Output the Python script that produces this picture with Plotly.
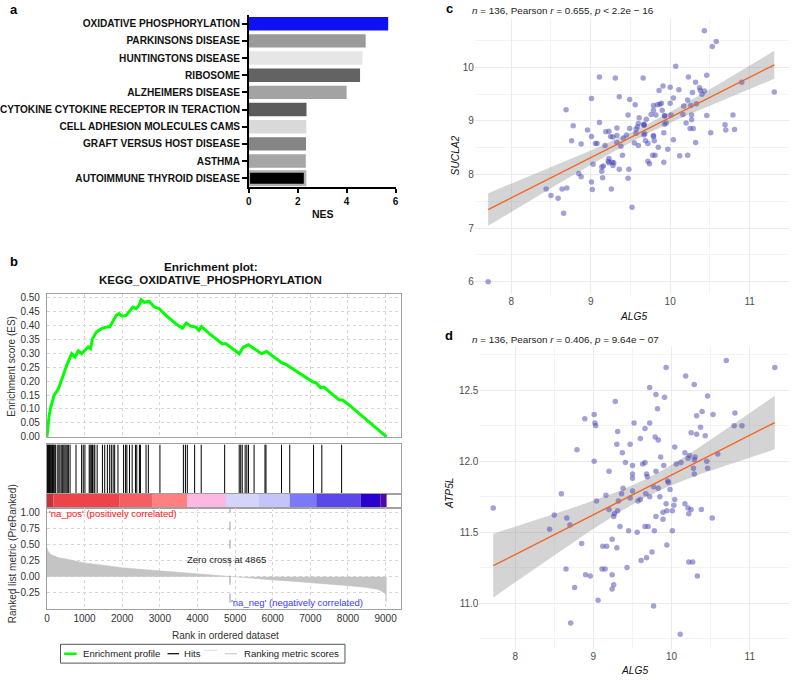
import numpy as np
import plotly.graph_objects as go

W, H = 792, 680
FONT = "Liberation Sans, Arial, sans-serif"

# ---------------- panel a: NES of top KEGG sets
pathways = [
    "OXIDATIVE PHOSPHORYLATION", "PARKINSONS DISEASE", "HUNTINGTONS DISEASE",
    "RIBOSOME", "ALZHEIMERS DISEASE", "CYTOKINE CYTOKINE RECEPTOR IN TERACTION",
    "CELL ADHESION MOLECULES CAMS", "GRAFT VERSUS HOST DISEASE", "ASTHMA",
    "AUTOIMMUNE THYROID DISEASE",
]
nes = [5.70, 4.78, 4.65, 4.55, 4.00, 2.36, 2.35, 2.34, 2.33, 2.30]
bar_colors = ["#1010f5", "#9a9a9a", "#e6e6e6", "#636363", "#a3a3a3",
              "#5c5c5c", "#d9d9d9", "#858585", "#a6a6a6", "#000000"]
bar_edges = ["rgba(0,0,0,0)"] * 9 + ["#b0b0b0"]

# ---------------- panel b: GSEA enrichment plot
es_rank = [0, 61, 105, 193, 307, 395, 527, 658, 746, 834, 922, 1097, 1159, 1212,
           1317, 1449, 1580, 1668, 1756, 1844, 1914, 2002, 2107, 2195, 2283, 2371,
           2458, 2502, 2590, 2722, 2853, 2985, 3161, 3424, 3600, 3705, 3819, 3951,
           4039, 4109, 4302, 4653, 4759, 5110, 5224, 5356, 5487, 5707, 5838, 6234,
           6365, 6427, 7068, 7156, 7270, 7358, 7770, 7858, 8034, 9026]
es_score = [0.0, 0.078, 0.108, 0.150, 0.173, 0.209, 0.257, 0.299, 0.287, 0.309,
            0.299, 0.323, 0.317, 0.353, 0.377, 0.389, 0.395, 0.395, 0.419, 0.437,
            0.443, 0.434, 0.437, 0.451, 0.467, 0.461, 0.475, 0.493, 0.484, 0.487,
            0.467, 0.461, 0.437, 0.407, 0.391, 0.409, 0.398, 0.395, 0.383, 0.397,
            0.373, 0.335, 0.335, 0.299, 0.323, 0.331, 0.319, 0.299, 0.307, 0.267,
            0.260, 0.254, 0.197, 0.194, 0.177, 0.179, 0.132, 0.132, 0.114, 0.0]

hit_ranks = [5, 20, 38, 55, 72, 90, 110, 130, 150, 170, 190, 215, 235,
             290, 320, 350, 395, 420, 450, 480, 510, 540, 570, 615, 773, 922, 965,
             1010, 1124, 1150, 1180, 1210, 1250, 1273, 1335, 1475, 1536, 1607, 1668,
             1712, 1760, 1800, 1888, 2037, 2090, 2125, 2195, 2265, 2353, 2388, 2458,
             2485, 2634, 2695, 3003, 3626, 3680, 3731, 3925, 4100, 4723, 5110, 5150,
             5190, 5268, 5312, 5356, 5505, 5795, 5821, 6234, 6453, 7085, 7305, 7831]

band_edges = [0, 176, 1933, 2810, 3732, 4759, 5620, 6453, 7156, 8341, 8868, 9026]
band_colors = ["#c8323a", "#ec4448", "#f55e62", "#ff8080", "#fbb8e2", "#d4d4f8",
               "#c4c4f8", "#7a7af8", "#5a48e8", "#2a00cc", "#5208a0"]

metric_rank = [0, 40, 100, 300, 616, 1000, 1500, 2000, 2500, 3000, 3500, 4000, 4500,
               4865, 5500, 6000, 6500, 7000, 7500, 8000, 8500, 8800, 8950, 9000, 9026]
metric_val = [0.455, 0.39, 0.345, 0.30, 0.265, 0.215, 0.18, 0.14, 0.115, 0.09, 0.065,
              0.04, 0.02, 0.0, -0.03, -0.05, -0.07, -0.09, -0.11, -0.14, -0.17,
              -0.20, -0.245, -0.28, -0.395]
zero_cross = 4865

# ---------------- panel c: ALG5 vs SUCLA2
c_alg5 = [10.43, 10.58, 10.53, 10.07, 10.46, 9.11, 9.31, 9.66, 10.23, 10.90, 10.32, 9.91,
          10.37, 10.38, 10.43, 10.40, 10.28, 10.00, 10.11, 9.86, 11.31, 9.36, 9.01, 9.49,
          10.04, 10.22, 9.56, 9.79, 9.84, 9.87, 10.00, 9.89, 10.33, 10.17, 10.26, 9.79,
          9.90, 8.69, 9.47, 9.76, 9.82, 9.93, 9.93, 10.01, 10.16, 10.27, 10.46, 10.79,
          9.61, 9.11, 9.70, 10.27, 9.60, 9.59, 9.67, 9.67, 9.93, 10.20, 10.69, 10.25,
          10.29, 8.78, 8.96, 9.33, 9.49, 9.19, 9.23, 10.70, 10.81, 9.57, 9.33, 9.25,
          9.28, 9.45, 9.01, 9.41, 9.06, 8.88, 9.68, 9.67, 9.57, 9.69, 9.72, 9.79,
          9.79, 9.80, 9.55, 9.60, 9.18, 9.38, 9.33, 9.92, 10.04, 10.51, 10.32, 8.76,
          9.08, 9.85, 9.40, 9.23, 9.22, 9.27, 9.29, 9.23, 9.28, 9.16, 9.03, 9.72,
          9.74, 9.92, 9.81, 9.78, 9.97, 10.12, 10.22, 9.36, 9.48, 9.14, 8.85, 9.15,
          8.88, 9.47, 9.01, 8.44, 8.50, 8.64, 8.70, 9.02, 9.26, 8.59, 9.52, 8.66,
          7.71, 9.14, 9.67, 9.95]
c_sucla2 = [10.68, 10.48, 10.39, 10.02, 9.85, 9.82, 9.80, 9.80, 9.82, 9.72, 9.72, 9.65,
            9.62, 9.57, 9.56, 9.50, 9.53, 9.63, 9.58, 9.57, 9.54, 9.45, 9.42, 9.40,
            9.43, 9.39, 9.30, 9.29, 9.30, 9.31, 9.33, 9.33, 9.32, 9.28, 9.29, 9.20,
            9.20, 9.21, 9.11, 9.12, 9.11, 9.10, 9.09, 9.11, 9.12, 9.11, 9.10, 9.11,
            9.06, 8.97, 9.03, 9.02, 8.95, 8.89, 8.93, 8.94, 8.94, 8.96, 8.93, 8.86,
            8.86, 8.91, 8.83, 8.87, 8.86, 8.80, 8.81, 8.83, 8.84, 8.85, 8.73, 8.71,
            8.70, 8.74, 8.71, 8.68, 8.58, 8.57, 8.76, 8.74, 8.77, 8.63, 8.58, 8.73,
            8.71, 8.63, 8.59, 8.54, 8.54, 8.53, 8.60, 8.78, 8.65, 8.78, 8.60, 8.63,
            8.58, 8.51, 8.36, 8.30, 8.25, 8.23, 8.22, 8.22, 8.17, 8.16, 8.19, 8.25,
            8.20, 8.23, 8.36, 8.36, 8.47, 8.35, 8.36, 8.10, 8.10, 8.06, 8.02, 7.94,
            7.96, 7.93, 7.86, 7.73, 7.61, 7.73, 7.75, 7.72, 7.73, 7.56, 7.39, 7.28,
            6.00, 8.14, 8.92, 8.96]

# ---------------- panel d: ALG5 vs ATP5L
d_alg5 = [10.70, 9.93, 11.32, 10.18, 10.29, 9.72, 9.80, 9.91, 10.46, 9.28, 9.82, 10.39,
          10.81, 9.01, 8.89, 9.02, 9.03, 9.52, 9.72, 10.32, 10.53, 9.66, 9.31, 10.25,
          10.32, 10.37, 10.80, 10.90, 9.79, 9.83, 9.60, 9.47, 9.30, 10.43, 8.79, 10.04,
          9.37, 10.17, 10.23, 9.86, 10.29, 9.01, 9.41, 9.63, 9.66, 10.06, 10.12, 10.21,
          9.90, 10.30, 10.45, 10.59, 9.50, 10.28, 10.46, 9.20, 9.50, 9.80, 9.68, 10.29,
          9.69, 9.95, 9.38, 9.50, 9.77, 9.83, 9.96, 9.98, 8.59, 9.16, 9.36, 9.32,
          9.50, 9.72, 9.67, 9.60, 9.57, 9.47, 9.85, 10.04, 9.04, 9.93, 10.03, 10.17,
          10.21, 10.22, 10.25, 10.38, 10.52, 10.01, 9.94, 9.89, 9.80, 9.89, 9.20, 9.27,
          9.31, 9.26, 8.50, 8.66, 8.70, 8.44, 9.34, 9.45, 9.56, 9.66, 9.70, 9.78,
          10.01, 7.72, 9.24, 9.12, 9.17, 9.30, 8.85, 9.94, 9.75, 9.68, 9.61, 10.22,
          10.27, 8.65, 9.11, 9.15, 9.43, 8.90, 8.96, 9.24, 9.26, 9.24, 8.76, 9.06,
          9.77, 8.71, 10.11, 10.33]
d_atp5l = [12.71, 12.66, 12.66, 12.60, 12.54, 12.52, 12.47, 12.45, 12.46, 12.42, 12.37, 12.35,
           12.34, 12.33, 12.30, 12.27, 12.25, 12.27, 12.27, 12.32, 12.33, 12.23, 12.21, 12.20,
           12.19, 12.24, 12.25, 12.25, 12.17, 12.15, 12.16, 12.12, 12.12, 12.18, 12.08, 12.10,
           12.06, 12.06, 12.04, 12.03, 12.01, 12.00, 11.99, 11.98, 11.99, 11.98, 11.99, 12.02,
           11.97, 12.03, 12.00, 12.05, 11.97, 11.95, 11.95, 11.93, 11.91, 11.93, 11.91, 11.91,
           11.89, 11.86, 11.81, 11.88, 11.82, 11.81, 11.85, 11.80, 11.77, 11.76, 11.77, 11.72,
           11.79, 11.75, 11.77, 11.73, 11.72, 11.74, 11.75, 11.73, 11.72, 11.70, 11.69, 11.70,
           11.67, 11.63, 11.66, 11.66, 11.60, 11.65, 11.65, 11.64, 11.61, 11.59, 11.66, 11.63,
           11.65, 11.61, 11.62, 11.60, 11.55, 11.52, 11.54, 11.51, 11.50, 11.54, 11.54, 11.51,
           11.51, 11.67, 11.45, 11.40, 11.40, 11.39, 11.42, 11.41, 11.36, 11.32, 11.30, 11.29,
           11.29, 11.24, 11.24, 11.24, 11.25, 11.20, 11.19, 11.20, 11.13, 11.10, 11.11, 11.02,
           10.98, 10.86, 10.78, 11.19]

T975 = 1.978  # t quantile, df = 134


def px(x):
    return x / W


def py(y):
    return 1 - y / H


def lm_band(x, y, n_grid=80):
    """Least-squares line with 95% confidence band (like geom_smooth(method='lm'))."""
    x = np.asarray(x, float)
    y = np.asarray(y, float)
    slope, icpt = np.polyfit(x, y, 1)
    resid = y - (slope * x + icpt)
    s = np.sqrt(np.sum(resid ** 2) / (len(x) - 2))
    sxx = np.sum((x - x.mean()) ** 2)
    xg = np.linspace(x.min(), x.max(), n_grid)
    yg = slope * xg + icpt
    half = T975 * s * np.sqrt(1 / len(x) + (xg - x.mean()) ** 2 / sxx)
    return xg, yg, yg - half, yg + half


fig = go.Figure()

# panel a bars
fig.add_trace(go.Bar(
    x=nes, y=pathways, orientation="h", width=0.78,
    marker=dict(color=bar_colors, line=dict(color=bar_edges, width=2.5)),
    xaxis="x", yaxis="y", showlegend=False,
))

# panel b: ES profile
fig.add_trace(go.Scatter(
    x=es_rank, y=es_score, mode="lines", name="Enrichment profile",
    line=dict(color="#00ff00", width=3), xaxis="x2", yaxis="y2", showlegend=False,
))

# hits
hx, hy = [], []
for r in hit_ranks:
    hx += [r, r, None]
    hy += [0, 1, None]
fig.add_trace(go.Scatter(
    x=hx, y=hy, mode="lines", name="Hits", line=dict(color="#000000", width=1),
    xaxis="x3", yaxis="y3", showlegend=False,
))

# ranked-list colour band
fig.add_trace(go.Bar(
    x=band_edges[:-1], y=[1] * len(band_colors), width=list(np.diff(band_edges)),
    offset=0, marker=dict(color=band_colors, line=dict(width=0)),
    xaxis="x4", yaxis="y4", showlegend=False,
))

# ranking metric
fig.add_trace(go.Scatter(
    x=metric_rank, y=metric_val, mode="lines", fill="tozeroy", fillcolor="#c4c4c4",
    line=dict(color="#c4c4c4", width=0.5), name="Ranking metric scores",
    xaxis="x5", yaxis="y5", showlegend=False,
))

# panels c, d scatter + fit
for xs, ys, xa, ya in [(c_alg5, c_sucla2, "x6", "y6"), (d_alg5, d_atp5l, "x7", "y7")]:
    xg, yg, lo, hi = lm_band(xs, ys)
    fig.add_trace(go.Scatter(
        x=np.concatenate([xg, xg[::-1]]), y=np.concatenate([hi, lo[::-1]]),
        fill="toself", fillcolor="rgba(153,153,153,0.42)", line=dict(width=0),
        mode="lines", xaxis=xa, yaxis=ya, showlegend=False, hoverinfo="skip",
    ))
    fig.add_trace(go.Scatter(
        x=xs, y=ys, mode="markers",
        marker=dict(color="rgba(70,70,180,0.5)", size=5.5, line=dict(width=0)),
        xaxis=xa, yaxis=ya, showlegend=False,
    ))
    fig.add_trace(go.Scatter(
        x=xg, y=yg, mode="lines", line=dict(color="#f26522", width=1.4),
        xaxis=xa, yaxis=ya, showlegend=False,
    ))

# ---------------- axes
box = "#a0a0a0"
grid_dot = dict(showgrid=True, gridcolor="#d6d6d6", griddash="dot", gridwidth=1)
tickf = dict(family=FONT, size=10, color="#333333")
rank_range = [0, 9421]

layout_axes = dict(
    xaxis=dict(domain=[px(247), px(395)], range=[0, 6], anchor="y", dtick=2,
               showline=True, linecolor="#000", linewidth=1.5, ticks="outside",
               ticklen=4, tickwidth=1.5, tickcolor="#000", showgrid=False, zeroline=False,
               tickfont=dict(family=FONT, size=10, color="#111", weight="bold")),
    yaxis=dict(domain=[py(186.7), py(13.3)], anchor="x", type="category",
               categoryorder="array", categoryarray=pathways, autorange="reversed",
               showline=True, linecolor="#000", linewidth=1.5, ticks="outside",
               ticklen=5, tickwidth=1.5, tickcolor="#000", showgrid=False,
               tickfont=dict(family=FONT, size=10.1, color="#111", weight="bold")),
    xaxis2=dict(domain=[px(43.3), px(401)], range=rank_range, anchor="y2", dtick=1000,
                showticklabels=False, showline=True, mirror=True, linecolor=box,
                zeroline=False, **grid_dot),
    yaxis2=dict(domain=[py(440), py(295)], range=[-0.0025, 0.514], anchor="x2",
                dtick=0.05, tick0=0, tickformat=".2f", showline=True, mirror=True,
                linecolor=box, zeroline=False, ticks="", tickfont=tickf,
                ticklabelstandoff=4, **grid_dot),
    xaxis3=dict(domain=[px(43.3), px(401)], range=rank_range, anchor="y3",
                showticklabels=False, showline=True, mirror=True, linecolor=box,
                showgrid=False, zeroline=False),
    yaxis3=dict(domain=[py(497), py(447)], range=[0, 1], anchor="x3",
                showticklabels=False, showline=True, mirror=True, linecolor=box,
                showgrid=False, zeroline=False),
    xaxis4=dict(domain=[px(43.3), px(401)], range=rank_range, anchor="y4",
                showticklabels=False, showline=True, mirror=True, linecolor=box,
                showgrid=False, zeroline=False),
    yaxis4=dict(domain=[py(511), py(497)], range=[0, 1], anchor="x4",
                showticklabels=False, showline=True, mirror=True, linecolor=box,
                showgrid=False, zeroline=False),
    xaxis5=dict(domain=[px(43.3), px(401)], range=rank_range, anchor="y5", dtick=1000,
                tick0=0, showline=True, mirror=True, linecolor=box, zeroline=False,
                ticks="", tickfont=tickf, **grid_dot),
    yaxis5=dict(domain=[py(613), py(511)], range=[-0.50, 1.077], anchor="x5",
                tickvals=[-0.25, 0, 0.25, 0.5, 0.75, 1.0], tickformat=".2f",
                showline=True, mirror=True, linecolor=box, zeroline=False, ticks="",
                tickfont=tickf, ticklabelstandoff=4, **grid_dot),
)

gg_major = dict(showgrid=True, gridcolor="#ebebeb", gridwidth=1, zeroline=False,
                showline=False, ticks="",
                tickfont=dict(family=FONT, size=10, color="#4d4d4d"))
layout_axes.update(
    xaxis6=dict(domain=[px(475), px(792)], range=[7.542, 11.495], anchor="y6", dtick=1,
                minor=dict(dtick=0.5, showgrid=True, gridcolor="#f3f3f3", gridwidth=0.6),
                **gg_major),
    yaxis6=dict(domain=[py(295), py(16.7)], range=[5.773, 10.91], anchor="x6", dtick=1,
                minor=dict(dtick=0.5, showgrid=True, gridcolor="#f3f3f3", gridwidth=0.6),
                **gg_major),
    xaxis7=dict(domain=[px(479.6), px(791.5)], range=[7.542, 11.495], anchor="y7", dtick=1,
                minor=dict(dtick=0.5, showgrid=True, gridcolor="#f3f3f3", gridwidth=0.6),
                **gg_major),
    yaxis7=dict(domain=[py(654.2), py(348.3)], range=[10.673, 12.807], anchor="x7",
                dtick=0.5, tickformat=".1f",
                minor=dict(dtick=0.25, showgrid=True, gridcolor="#f3f3f3", gridwidth=0.6),
                **gg_major),
)


def note(x, y, text, size=10, color="#222", bold=False, italic=False,
         xanchor="center", angle=0, xref="paper", yref="paper"):
    return dict(
        x=x, y=y, xref=xref, yref=yref, text=text, showarrow=False,
        xanchor=xanchor, yanchor="middle", textangle=angle,
        font=dict(family=FONT, size=size, color=color,
                  weight="bold" if bold else "normal",
                  style="italic" if italic else "normal"),
    )


annotations = [
    note(px(4), py(8), "a", size=13, color="#000", bold=True, xanchor="left"),
    note(px(4), py(262), "b", size=13, color="#000", bold=True, xanchor="left"),
    note(px(449), py(7), "c", size=13, color="#000", bold=True, xanchor="center"),
    note(px(449), py(337), "d", size=13, color="#000", bold=True, xanchor="center"),
    note(px(321.7), py(214), "NES", size=10.5, color="#111", bold=True),
    note(px(208.5), py(267.7), "Enrichment plot:", size=11.8, color="#111", bold=True),
    note(px(208.5), py(280.7), "KEGG_OXIDATIVE_PHOSPHORYLATION", size=11.5,
         color="#111", bold=True),
    note(px(8), py(367.5), "Enrichment score (ES)", size=10, color="#333", angle=-90),
    note(px(8), py(557), "Ranked list metric (PreRanked)", size=10, color="#333",
         angle=-90),
    note(px(223.8), py(640), "Rank in ordered dataset", size=10, color="#333"),
    note(px(43.8), py(517), "'na_pos' (positively correlated)", size=9.5,
         color="#ff1010", xanchor="left"),
    note(px(227), py(607), "'na_neg' (negatively correlated)", size=9.5,
         color="#3a3aff", xanchor="left"),
    note(4770, 0.27, f"Zero cross at {zero_cross}", size=9.5, color="#222",
         xref="x5", yref="y5"),
    note(px(470), py(9), "<i>n</i> = 136, Pearson <i>r</i> = 0.655, <i>p</i> &lt; 2.2e − 16",
         size=9.9, color="#222", xanchor="left"),
    note(px(470), py(341), "<i>n</i> = 136, Pearson <i>r</i> = 0.406, <i>p</i> = 9.64e − 07",
         size=9.9, color="#222", xanchor="left"),
    note(px(635), py(317.5), "ALG5", size=10.2, color="#111", italic=True),
    note(px(455), py(155), "SUCLA2", size=10.2, color="#111", italic=True, angle=-90),
    note(px(636), py(675), "ALG5", size=10.2, color="#111", italic=True),
    note(px(450), py(497), "ATP5L", size=10.2, color="#111", italic=True, angle=-90),
    # legend texts
    note(px(77.3), py(658.5), "Enrichment profile", size=9.6, color="#222", xanchor="left"),
    note(px(180), py(658.5), "Hits", size=9.6, color="#222", xanchor="left"),
    note(px(240), py(658.5), "Ranking metric scores", size=9.6, color="#222",
         xanchor="left"),
]

shapes = [
    # zero-cross marker
    dict(type="line", xref="x5", yref="y5 domain", x0=zero_cross, x1=zero_cross,
         y0=0.06, y1=1, line=dict(color="#9a9a9a", width=1, dash="dash")),
    # legend box and keys
    dict(type="rect", xref="paper", yref="paper", x0=px(57), x1=px(344),
         y0=py(668), y1=py(649), line=dict(color="#555", width=1)),
    dict(type="line", xref="paper", yref="paper", x0=px(60.7), x1=px(73.3),
         y0=py(658.5), y1=py(658.5), line=dict(color="#00ff00", width=2.5)),
    dict(type="line", xref="paper", yref="paper", x0=px(165), x1=px(176.7),
         y0=py(658.5), y1=py(658.5), line=dict(color="#000", width=1.2)),
    dict(type="line", xref="paper", yref="paper", x0=px(201.7), x1=px(215),
         y0=py(655), y1=py(655), line=dict(color="#dcdcdc", width=1)),
    dict(type="line", xref="paper", yref="paper", x0=px(222.7), x1=px(235),
         y0=py(658.5), y1=py(658.5), line=dict(color="#cccccc", width=1.2)),
]

fig.update_layout(
    width=W, height=H, margin=dict(l=0, r=0, t=0, b=0),
    paper_bgcolor="white", plot_bgcolor="white",
    font=dict(family=FONT, size=10, color="#222"),
    showlegend=False, annotations=annotations, shapes=shapes,
    **layout_axes,
)

# the page body has a default 8px margin; drop it so the figure sits at (0, 0)
fig.write_html("out.html",
               config={"displayModeBar": False},
               post_script="document.body.style.margin='0px';"
                           "document.body.style.overflow='hidden';")
